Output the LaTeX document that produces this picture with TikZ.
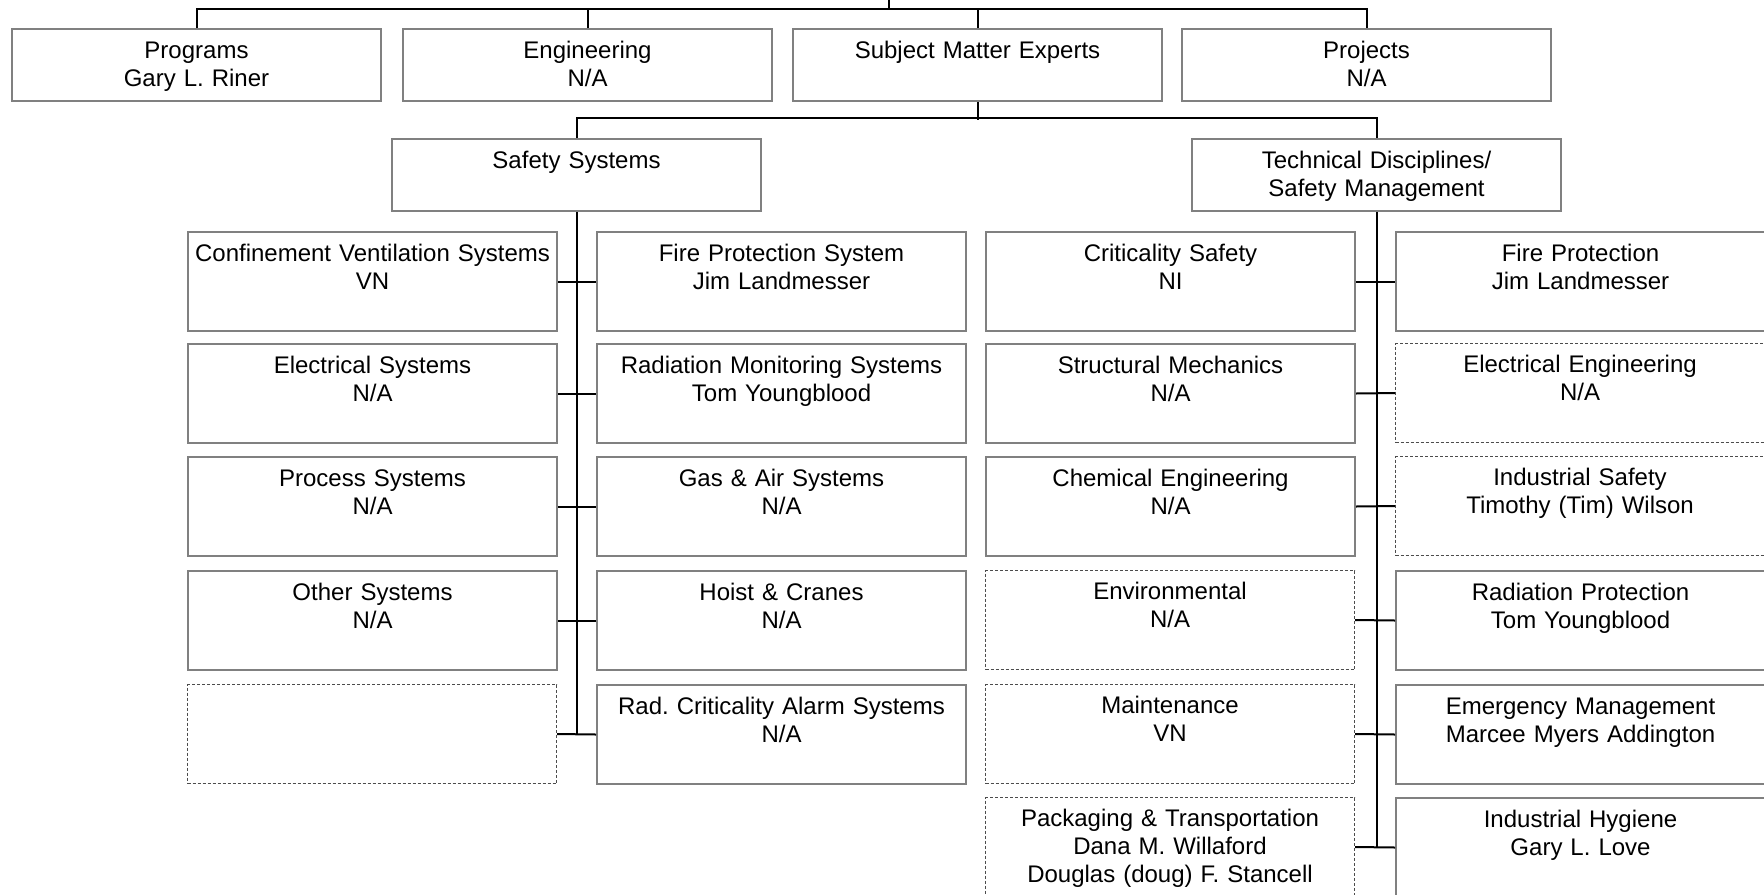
\documentclass[tikz,border=0pt]{standalone}
\usepackage{fontspec}
\setmainfont{Liberation Sans}
\usetikzlibrary{positioning}
\frenchspacing

\begin{document}
\begin{tikzpicture}[
    x=0.5pt, y=-0.5pt,
    unit/.style={rectangle, draw=black!50, line width=1pt, anchor=north west, inner sep=0pt, text width=184.5pt, align=center, text height=14.5pt, text depth=35pt, font=\fontsize{12}{14}\selectfont},
    head/.style={unit, text depth=21.5pt},
    vacant/.style={unit, draw=black!70, line width=0.5pt, dash pattern=on 1.5pt off 1pt},
    link/.style={line width=1pt}
]
\clip (0,0) rectangle (1764,894);

% Top tier
\node[head] (prog) at (11,28) {Programs\\Gary L. Riner};
\node[head] (eng) at (402,28) {Engineering\\N/A};
\node[head] (sme) at (792,28) {Subject Matter Experts};
\node[head] (proj) at (1181,28) {Projects\\N/A};

% Second tier
\node[head] (safety) at (391,138) {Safety Systems};
\node[head] (tech) at (1191,138) {Technical Disciplines/\\Safety Management};

% Safety systems
\node[unit] (sl1) at (187,231) {Confinement Ventilation Systems\\VN};
\node[unit] (sl2) at (187,343) {Electrical Systems\\N/A};
\node[unit] (sl3) at (187,456) {Process Systems\\N/A};
\node[unit] (sl4) at (187,570) {Other Systems\\N/A};
\node[vacant] (sl5) at (187,684) {};
\node[unit] (sr1) at (596,231) {Fire Protection System\\Jim Landmesser};
\node[unit] (sr2) at (596,343) {Radiation Monitoring Systems\\Tom Youngblood};
\node[unit] (sr3) at (596,456) {Gas \& Air Systems\\N/A};
\node[unit] (sr4) at (596,570) {Hoist \& Cranes\\N/A};
\node[unit] (sr5) at (596,684) {Rad. Criticality Alarm Systems\\N/A};

% Technical disciplines
\node[unit] (tl1) at (985,231) {Criticality Safety\\NI};
\node[unit] (tl2) at (985,343) {Structural Mechanics\\N/A};
\node[unit] (tl3) at (985,456) {Chemical Engineering\\N/A};
\node[vacant] (tl4) at (985,570) {Environmental\\N/A};
\node[vacant] (tl5) at (985,684) {Maintenance\\VN};
\node[vacant] (tl6) at (985,797) {Packaging \& Transportation\\Dana M. Willaford\\Douglas (doug) F. Stancell};
\node[unit] (tr1) at (1395,231) {Fire Protection\\Jim Landmesser};
\node[vacant] (tr2) at (1395,343) {Electrical Engineering\\N/A};
\node[vacant] (tr3) at (1395,456) {Industrial Safety\\Timothy (Tim) Wilson};
\node[unit] (tr4) at (1395,570) {Radiation Protection\\Tom Youngblood};
\node[unit] (tr5) at (1395,684) {Emergency Management\\Marcee Myers Addington};
\node[unit] (tr6) at (1395,797) {Industrial Hygiene\\Gary L. Love};

% Connecting lines
\coordinate (root) at (889,0);
\coordinate (bus) at (889,9);
\draw[link] (root) -- (bus);
\draw[link] (prog.north) |- (bus) -| (proj.north);
\draw[link] (eng.north) -- (eng.north |- bus);
\draw[link] (sme.north) -- (sme.north |- bus);
\draw[link] (sme.south) -- ++(0,18);
\draw[link] (safety.north) -- ++(0,-20) -| (tech.north);
\draw[link] (safety.south) -- (safety.south |- sl5.east);
\draw[link] (tech.south) -- (tech.south |- tl6.east);
\foreach \i in {1,...,5}
    \draw[link] (sl\i.east) -- (sr\i.west);
\foreach \i in {1,...,6}
    \draw[link] (tl\i.east) -- (tr\i.west);
\end{tikzpicture}
\end{document}
